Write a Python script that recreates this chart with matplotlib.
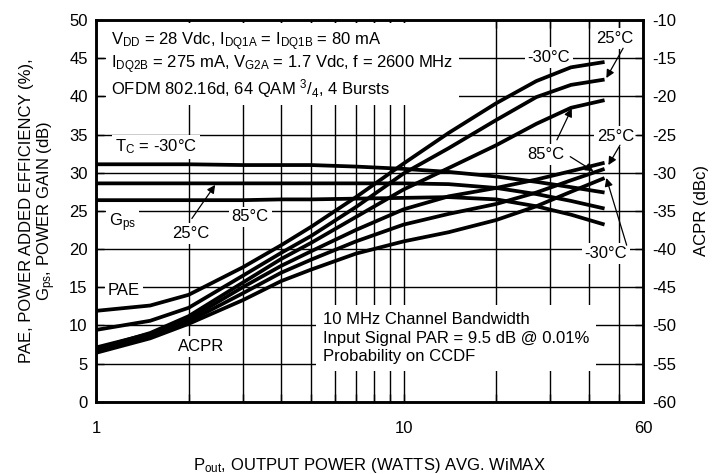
import numpy as np
import matplotlib
matplotlib.use('Agg')
import matplotlib.pyplot as plt
from matplotlib.ticker import FixedLocator, NullFormatter

plt.rcParams['font.family'] = ['Liberation Sans', 'DejaVu Sans']
plt.rcParams['axes.unicode_minus'] = False
plt.rcParams['mathtext.fontset'] = 'custom'
plt.rcParams['mathtext.rm'] = 'Liberation Sans'
plt.rcParams['mathtext.it'] = 'Liberation Sans'
plt.rcParams['mathtext.default'] = 'regular'

## data
pout = [1, 1.5, 2, 3, 4, 5, 7, 10, 14, 20, 27, 35, 45]   # W avg

## PAE (%), left axis
pae_m30 = [11.9, 12.6, 14.0, 17.6, 20.5, 22.9, 26.8, 31.2, 35.2, 39.1, 42.0, 43.8, 44.5]
pae_25  = [9.4, 10.6, 12.3, 16.5, 19.5, 21.7, 25.5, 29.9, 33.2, 36.9, 39.9, 41.5, 42.2]
pae_85  = [6.9, 9.0, 11.2, 15.6, 18.7, 20.8, 24.2, 27.8, 30.6, 33.6, 36.4, 38.5, 39.5]

## Gps (dB), left axis
gps_m30 = [31.1, 31.1, 31.1, 31.0, 31.0, 31.0, 30.8, 30.5, 30.1, 29.5, 28.8, 28.1, 27.4]
gps_25  = [28.6, 28.6, 28.6, 28.6, 28.6, 28.6, 28.6, 28.6, 28.5, 28.0, 27.2, 26.3, 25.3]
gps_85  = [26.4, 26.4, 26.4, 26.4, 26.5, 26.5, 26.6, 26.7, 26.8, 26.5, 25.6, 24.5, 23.2]

## ACPR (dBc), right axis
acpr_25  = [-52.9, -51.1, -49.2, -45.0, -42.2, -40.3, -37.5, -34.8, -33.1, -32.0, -30.9, -29.8, -28.7]
acpr_85  = [-53.3, -51.4, -49.5, -45.8, -43.1, -41.4, -39.0, -36.8, -35.4, -34.1, -32.6, -31.0, -29.5]
acpr_m30 = [-53.6, -51.7, -49.8, -46.7, -44.2, -42.7, -40.6, -39.0, -37.8, -36.2, -34.4, -32.5, -30.7]

left_ticks = list(range(0, 51, 5))
right_ticks = list(range(-60, -9, 5))
minor_x = [2, 3, 4, 5, 6, 7, 8, 9, 20, 30, 40, 50]

fig = plt.figure(figsize=(7.2, 4.74), dpi=100)
ax = fig.add_axes([96/720, 1-401.7/474, 547/720, 381.7/474])
ax2 = ax.twinx()

ax.set_xscale('log')
ax.set_xlim(1, 60)
ax.set_ylim(0, 50)
ax2.set_ylim(-60, -10)

ax.set_xticks([1, 10, 60])
ax.set_xticklabels(['1', '10', '60'])
ax.xaxis.set_minor_locator(FixedLocator(minor_x))
ax.xaxis.set_minor_formatter(NullFormatter())
ax.set_yticks(left_ticks)
ax2.set_yticks(right_ticks)

ax.grid(True, which='both', color='black', lw=1.0)
ax.set_axisbelow(True)

ax.tick_params(axis='both', which='both', direction='in', length=6, width=1,
               top=True, right=False, labelsize=12)
ax.tick_params(axis='x', which='major', pad=14)
ax.tick_params(axis='y', pad=6)
ax2.tick_params(axis='y', direction='in', length=6, width=1, labelsize=12, pad=7)

for a in (ax, ax2):
    for s in a.spines.values():
        s.set_linewidth(1.8)

lw = 2.7
for yy in (pae_m30, pae_25, pae_85, gps_m30, gps_25, gps_85):
    ax.plot(pout, yy, color='black', lw=lw, zorder=3, solid_capstyle='butt')
for yy in (acpr_25, acpr_85, acpr_m30):
    ax2.plot(pout, yy, color='black', lw=lw, zorder=3, solid_capstyle='butt')

box = dict(facecolor='white', edgecolor='none', pad=2)
fs = 12

ax.text(1.12, 44.1,
        'V$_{DD}$ = 28 Vdc, I$_{DQ1A}$ = I$_{DQ1B}$ = 80 mA\n'
        'I$_{DQ2B}$ = 275 mA, V$_{G2A}$ = 1.7 Vdc, f = 2600 MHz\n'
        'OFDM 802.16d, 64 QAM $^{3}$/$_{4}$, 4 Bursts',
        fontsize=fs, ha='left', va='center', linespacing=1.05,
        bbox=dict(facecolor='white', edgecolor='none', pad=4), zorder=2)

ax.text(5.45, 8.3,
        '10 MHz Channel Bandwidth\n'
        'Input Signal PAR = 9.5 dB @ 0.01%\n'
        'Probability on CCDF',
        fontsize=fs, ha='left', va='center', linespacing=1.3,
        bbox=dict(facecolor='white', edgecolor='none', pad=5), zorder=2)

ax.text(1.15, 33.4, 'T$_C$ = -30°C', fontsize=fs, ha='left', va='center', bbox=box, zorder=2)
ax.text(1.22, 23.5, 'G$_{ps}$', fontsize=fs, ha='center', va='center', bbox=box, zorder=2)
ax.text(2.04, 22.0, '25°C', fontsize=fs, ha='center', va='center', bbox=box, zorder=2)
ax.text(3.17, 24.2, '85°C', fontsize=fs, ha='center', va='center', bbox=box, zorder=2)
ax.text(1.23, 14.6, 'PAE', fontsize=fs, ha='center', va='center', bbox=box, zorder=2)
ax.text(2.19, 7.2, 'ACPR', fontsize=fs, ha='center', va='center', bbox=box, zorder=2)
ax.text(29.7, 45.1, '-30°C', fontsize=fs, ha='center', va='center', bbox=box, zorder=2)
ax.text(48.7, 47.6, '25°C', fontsize=fs, ha='center', va='center', bbox=box, zorder=2)
ax.text(29.0, 32.4, '85°C', fontsize=fs, ha='center', va='center', bbox=box, zorder=2)
ax.text(49.0, 34.7, '25°C', fontsize=fs, ha='center', va='center', bbox=box, zorder=2)
ax.text(45.5, 19.4, '-30°C', fontsize=fs, ha='center', va='center', bbox=box, zorder=2)

arr = dict(arrowstyle='-|>', color='black', lw=0.9, mutation_scale=12, shrinkA=0, shrinkB=0)
ax.annotate('', xy=(2.44, 28.4), xytext=(2.05, 24.0), arrowprops=arr, zorder=4)
ax.annotate('', xy=(45.6, 42.4), xytext=(51.7, 46.3), arrowprops=arr, zorder=4)
ax.annotate('', xy=(35.2, 38.4), xytext=(31.5, 34.3), arrowprops=arr, zorder=4)
ax.annotate('', xy=(41.4, 30.2), xytext=(34.8, 32.1), arrowprops=arr, zorder=4)
ax.annotate('', xy=(46.3, 31.0), xytext=(50.5, 33.6), arrowprops=arr, zorder=4)
ax.annotate('', xy=(45.6, 29.3), xytext=(53.1, 20.5), arrowprops=arr, zorder=4)

ax.set_xlabel('P$_{out}$, OUTPUT POWER (WATTS) AVG. WiMAX', fontsize=12, labelpad=14)
ax.set_ylabel('PAE, POWER ADDED EFFICIENCY (%),\nG$_{ps}$, POWER GAIN (dB)', fontsize=12,
              labelpad=8, linespacing=1.1)
ax2.set_ylabel('ACPR (dBc)', fontsize=12, labelpad=12)

fig.savefig('out.png', dpi=100)
